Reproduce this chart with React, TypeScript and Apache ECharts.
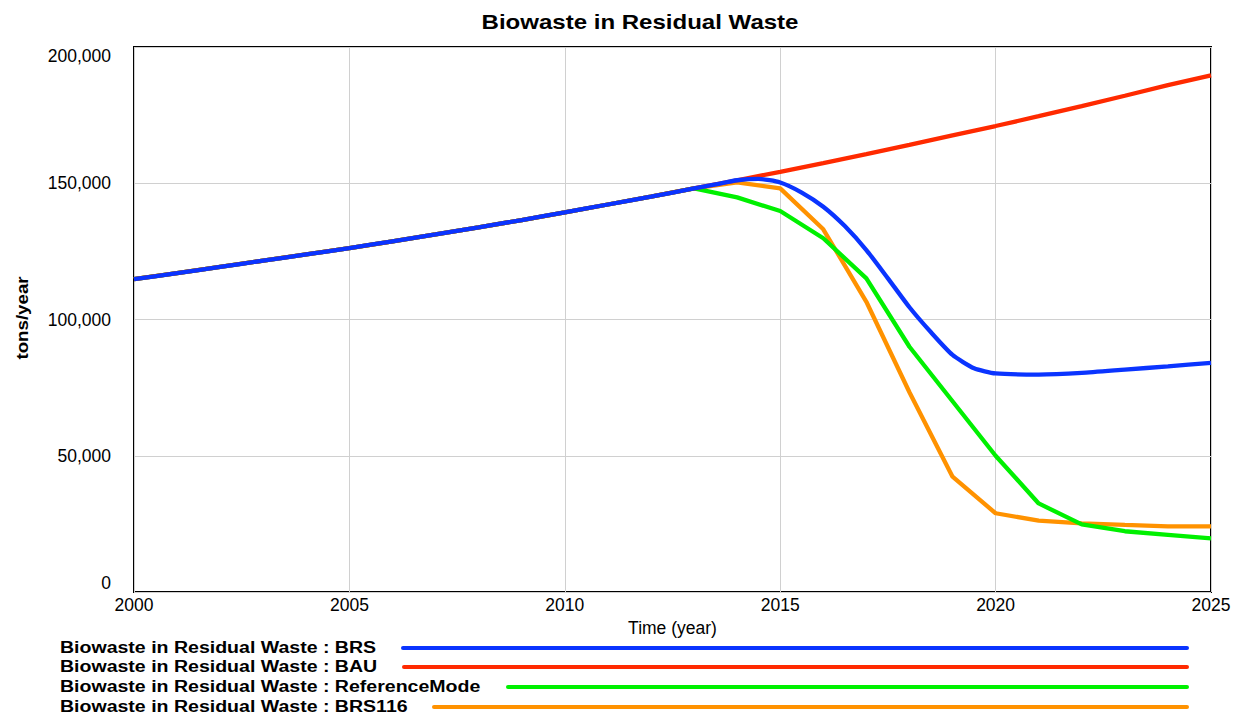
import React, { useEffect, useRef } from "react";
import * as echarts from "echarts";

const years = [2000, 2001, 2002, 2003, 2004, 2005, 2006, 2007, 2008, 2009, 2010, 2011, 2012, 2013, 2014, 2015, 2016, 2017, 2018, 2019, 2020, 2021, 2022, 2023, 2024, 2025];

const bau = [114800, 117000, 119300, 121600, 123900, 126200, 128700, 131200, 133800, 136500, 139300, 142200, 145100, 148100, 151100, 154200, 157400, 160700, 164100, 167600, 171000, 174600, 178300, 182100, 186000, 189600];

const referenceMode = [114800, 117000, 119300, 121600, 123900, 126200, 128700, 131200, 133800, 136500, 139300, 142200, 145100, 148100, 144800, 139800, 129800, 115100, 90000, 70000, 50000, 32500, 24800, 22300, 21000, 19700];

const brs116 = [114800, 117000, 119300, 121600, 123900, 126200, 128700, 131200, 133800, 136500, 139300, 142200, 145100, 148100, 150300, 148100, 133100, 106500, 73300, 42300, 28900, 26200, 25200, 24600, 24100, 24100];

const brsYears = [2000, 2001, 2002, 2003, 2004, 2005, 2006, 2007, 2008, 2009, 2010, 2011, 2012, 2013, 2013.5, 2014, 2014.5, 2015, 2015.5, 2016, 2016.5, 2017, 2017.5, 2018, 2018.5, 2019, 2019.5, 2020, 2021, 2022, 2023, 2024, 2025];

const brs = [114800, 117000, 119300, 121600, 123900, 126200, 128700, 131200, 133800, 136500, 139300, 142200, 145100, 148100, 149600, 151100, 151600, 150300, 146600, 141400, 134300, 125500, 115100, 104500, 95300, 87000, 82100, 80200, 79800, 80400, 81600, 82800, 84100];

const xTicks = { min: 2000, max: 2025, interval: 5 };
const yTicks = { min: 0, max: 200000, interval: 50000 };

const chartTitle = "Biowaste in Residual Waste";
const xName = "Time (year)";
const yName = "tons/year";
const seriesNames = [
  "Biowaste in Residual Waste : BRS",
  "Biowaste in Residual Waste : BAU",
  "Biowaste in Residual Waste : ReferenceMode",
  "Biowaste in Residual Waste : BRS116",
];
const colors = ["#0a34ff", "#ff2a00", "#00f000", "#ff9200"];

const FONT = "'Liberation Sans', Arial, Helvetica, sans-serif";

function pairs(xs: number[], ys: number[]) {
  return xs.map((x, i) => [x, ys[i]]);
}

export default function App() {
  const ref = useRef<HTMLDivElement>(null);

  useEffect(() => {
    if (!ref.current) return;
    const chart = echarts.init(ref.current, null, { renderer: "svg" });

    const legendRows = [648, 667, 687, 707];
    const legendLineStart = [403, 404, 508, 434];
    const graphics: any[] = [
      {
        type: "text",
        x: 640,
        y: 22.5,
        scaleX: 1.145,
        style: {
          text: chartTitle,
          fill: "#000",
          font: `bold 21px ${FONT}`,
          textAlign: "center",
          textVerticalAlign: "middle",
        },
      },
      {
        type: "text",
        x: 22,
        y: 318,
        rotation: Math.PI / 2,
        scaleX: 1.1,
        style: {
          text: yName,
          fill: "#000",
          font: `bold 17px ${FONT}`,
          textAlign: "center",
          textVerticalAlign: "middle",
        },
      },
    ];
    seriesNames.forEach((name, i) => {
      graphics.push({
        type: "text",
        x: 60,
        y: legendRows[i] - 1.5,
        scaleX: 1.15,
        style: {
          text: name,
          fill: "#000",
          font: `bold 17px ${FONT}`,
          textAlign: "left",
          textVerticalAlign: "middle",
        },
      });
      graphics.push({
        type: "line",
        shape: { x1: legendLineStart[i], y1: legendRows[i], x2: 1187, y2: legendRows[i] },
        style: { stroke: colors[i], lineWidth: 4, lineCap: "round" },
      });
    });

    const lineSeries = (name: string, data: number[][], color: string, smooth: number | boolean) => ({
      type: "line",
      name,
      data,
      showSymbol: false,
      symbol: "none",
      smooth,
      lineStyle: { color, width: 4.3 },
      itemStyle: { color },
    });

    chart.setOption({
      animation: false,
      backgroundColor: "#fff",
      grid: {
        left: 134,
        top: 47,
        width: 1077,
        height: 545,
        show: true,
        borderColor: "#000",
        borderWidth: 2,
        containLabel: false,
      },
      xAxis: {
        type: "value",
        min: xTicks.min,
        max: xTicks.max,
        interval: xTicks.interval,
        name: xName,
        nameLocation: "middle",
        nameGap: 21,
        nameTextStyle: { fontFamily: FONT, fontSize: 17.5, color: "#000" },
        axisLine: { show: false },
        axisTick: { show: false },
        axisLabel: {
          fontFamily: FONT,
          fontSize: 17.5,
          color: "#000",
          margin: 4,
          formatter: (v: number) => String(v),
        },
        splitLine: { show: true, lineStyle: { color: "#d0d0d0", width: 1 } },
      },
      yAxis: {
        type: "value",
        min: yTicks.min,
        max: yTicks.max,
        interval: yTicks.interval,
        axisLine: { show: false },
        axisTick: { show: false },
        axisLabel: {
          fontFamily: FONT,
          fontSize: 17.5,
          color: "#000",
          margin: 23,
          verticalAlignMinLabel: "bottom",
          verticalAlignMaxLabel: "top",
          formatter: (v: number) => v.toLocaleString("en-US"),
        },
        splitLine: { show: true, lineStyle: { color: "#d0d0d0", width: 1 } },
      },
      series: [
        lineSeries(seriesNames[3], pairs(years, brs116), colors[3], false),
        lineSeries(seriesNames[2], pairs(years, referenceMode), colors[2], false),
        lineSeries(seriesNames[1], pairs(years, bau), colors[1], false),
        lineSeries(seriesNames[0], pairs(brsYears, brs), colors[0], 0.2),
      ],
      graphic: graphics,
    });

    return () => chart.dispose();
  }, []);

  return (
    <div
      ref={ref}
      style={{ position: "fixed", left: 0, top: 0, width: 1235, height: 717, background: "#fff" }}
    />
  );
}
